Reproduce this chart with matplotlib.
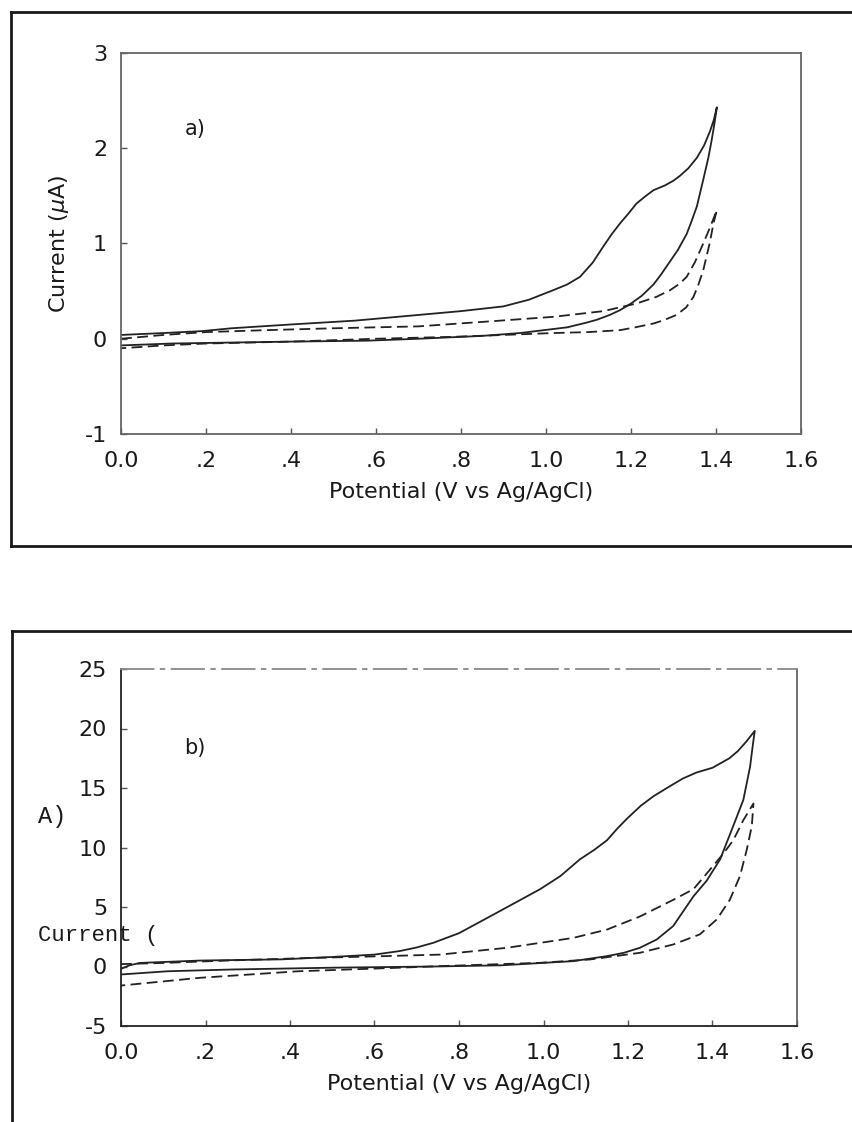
import matplotlib
matplotlib.use("Agg")
import matplotlib.pyplot as plt
from matplotlib.lines import Line2D

plt.rcParams["axes.unicode_minus"] = False

# ---- panel a) : current in uA ----
a_solid_up_v = [0.0, 0.1, 0.19, 0.26, 0.4, 0.55, 0.7, 0.8, 0.9, 0.96, 1.017, 1.05, 1.08, 1.11,
                1.135, 1.155, 1.174, 1.195, 1.213, 1.235, 1.253, 1.28, 1.3, 1.315, 1.335,
                1.355, 1.372, 1.386, 1.395, 1.402]
a_solid_up_i = [0.04, 0.06, 0.08, 0.11, 0.15, 0.19, 0.25, 0.29, 0.34, 0.41, 0.51, 0.57, 0.65, 0.8,
                0.97, 1.1, 1.21, 1.32, 1.42, 1.5, 1.56, 1.61, 1.66, 1.71, 1.79,
                1.9, 2.03, 2.18, 2.3, 2.43]
a_solid_dn_v = [1.396, 1.39, 1.382, 1.37, 1.355, 1.343, 1.331, 1.31, 1.29, 1.27, 1.253, 1.225,
                1.2, 1.174, 1.15, 1.12, 1.096, 1.05, 0.939, 0.85, 0.7, 0.58, 0.4, 0.26, 0.12, 0.0]
a_solid_dn_i = [2.25, 2.09, 1.9, 1.67, 1.39, 1.24, 1.1, 0.93, 0.8, 0.67, 0.57, 0.45,
                0.37, 0.3, 0.25, 0.2, 0.17, 0.12, 0.06, 0.03, 0.0, -0.02, -0.03, -0.04, -0.05, -0.07]

a_dash_up_v = [0.0, 0.1, 0.2, 0.34, 0.5, 0.7, 0.86, 1.017, 1.135, 1.213, 1.26, 1.292, 1.315,
               1.331, 1.35, 1.37, 1.386, 1.402]
a_dash_up_i = [0.0, 0.04, 0.07, 0.09, 0.11, 0.13, 0.18, 0.23, 0.29, 0.37, 0.44, 0.51, 0.58,
               0.65, 0.8, 1.0, 1.17, 1.35]
a_dash_dn_v = [1.398, 1.394, 1.385, 1.37, 1.358, 1.347, 1.33, 1.307, 1.28, 1.253, 1.21, 1.174,
               1.1, 1.017, 0.9, 0.78, 0.6, 0.4, 0.2, 0.1, 0.0]
a_dash_dn_i = [1.28, 1.21, 1.0, 0.72, 0.56, 0.44, 0.33, 0.25, 0.2, 0.16, 0.12, 0.09,
               0.07, 0.06, 0.04, 0.02, 0.0, -0.03, -0.05, -0.07, -0.1]

# ---- panel b) ----
b_solid_up_v = [0.0, 0.02, 0.045, 0.187, 0.38, 0.5, 0.6, 0.66, 0.7, 0.74, 0.8, 0.873, 0.93,
                0.992, 1.04, 1.086, 1.12, 1.15, 1.175, 1.197, 1.23, 1.26, 1.299, 1.33, 1.362,
                1.4, 1.42, 1.44, 1.46, 1.48, 1.5]
b_solid_up_i = [-0.2, 0.1, 0.3, 0.5, 0.6, 0.8, 1.0, 1.3, 1.6, 2.0, 2.8, 4.2, 5.3,
                6.5, 7.6, 9.0, 9.8, 10.6, 11.6, 12.4, 13.5, 14.3, 15.15, 15.8, 16.3,
                16.7, 17.1, 17.5, 18.1, 18.9, 19.8]
b_solid_dn_v = [1.495, 1.489, 1.473, 1.449, 1.418, 1.386, 1.355, 1.307, 1.268, 1.228, 1.19,
                1.15, 1.07, 0.9, 0.74, 0.5, 0.265, 0.11, 0.0]
b_solid_dn_i = [18.5, 16.8, 14.0, 11.8, 9.0, 7.2, 5.9, 3.4, 2.27, 1.57, 1.15,
                0.87, 0.45, 0.1, 0.0, -0.1, -0.25, -0.4, -0.67]

b_dash_up_v = [0.0, 0.1, 0.25, 0.43, 0.6, 0.755, 0.913, 1.07, 1.15, 1.228, 1.307, 1.355,
               1.386, 1.426, 1.449, 1.473, 1.497]
b_dash_up_i = [0.2, 0.3, 0.5, 0.7, 0.85, 1.0, 1.57, 2.4, 3.1, 4.2, 5.6, 6.5,
               7.8, 9.5, 10.6, 12.3, 13.7]
b_dash_dn_v = [1.493, 1.481, 1.465, 1.441, 1.41, 1.37, 1.307, 1.228, 1.11, 0.992, 0.755,
               0.66, 0.42, 0.187, 0.0]
b_dash_dn_i = [11.8, 9.8, 7.6, 5.6, 3.95, 2.7, 1.85, 1.15, 0.59, 0.31, 0.03,
               -0.1, -0.4, -0.95, -1.6]

x_ticks = [0.0, 0.2, 0.4, 0.6, 0.8, 1.0, 1.2, 1.4, 1.6]
x_ticklabels = ["0.0", ".2", ".4", ".6", ".8", "1.0", "1.2", "1.4", "1.6"]
a_yticks = [-1, 0, 1, 2, 3]
b_yticks = [-5, 0, 5, 10, 15, 20, 25]

W, H = 853, 1122
fig = plt.figure(figsize=(W / 100, H / 100), dpi=100)
fig.patch.set_facecolor("white")


def px(x0, y0, x1, y1):
    # pixel box (left, top, right, bottom) -> figure rect
    return [x0 / W, 1 - y1 / H, (x1 - x0) / W, (y1 - y0) / H]


def style_axes(ax, yticks, ylim):
    ax.set_xlim(0, 1.6)
    ax.set_ylim(*ylim)
    ax.set_xticks(x_ticks)
    ax.set_xticklabels(x_ticklabels)
    ax.set_yticks(yticks)
    ax.tick_params(direction="in", length=4, width=1, color="#555555",
                   labelsize=16, labelcolor="#1a1a1a")
    ax.tick_params(axis="x", pad=12)
    ax.tick_params(axis="y", pad=10)
    for s in ax.spines.values():
        s.set_color("#666666")
        s.set_linewidth(1.3)
    ax.set_xlabel("Potential (V vs Ag/AgCl)", fontsize=16, color="#1a1a1a", labelpad=8)


lw = 1.3
dash = (0, (6, 3))

# panel a
ax1 = fig.add_axes(px(121, 53, 801, 434))
ax1.plot(a_solid_up_v + a_solid_dn_v, a_solid_up_i + a_solid_dn_i, color="#222222", lw=lw)
ax1.plot(a_dash_up_v + a_dash_dn_v, a_dash_up_i + a_dash_dn_i, color="#222222", lw=lw,
         linestyle=dash)
style_axes(ax1, a_yticks, (-1, 3))
ax1.set_ylabel("Current ($\\mu$A)", fontsize=16, color="#1a1a1a", labelpad=10)
ax1.text(0.15, 2.2, "a)", fontsize=15, color="#1a1a1a", va="center")

# panel b
ax2 = fig.add_axes(px(121, 669, 797, 1026))
ax2.plot(b_solid_up_v + b_solid_dn_v, b_solid_up_i + b_solid_dn_i, color="#222222", lw=lw)
ax2.plot(b_dash_up_v + b_dash_dn_v, b_dash_up_i + b_dash_dn_i, color="#222222", lw=lw,
         linestyle=dash)
style_axes(ax2, b_yticks, (-5, 25))
ax2.spines["left"].set_color("#222222")
ax2.spines["bottom"].set_color("#222222")
ax2.spines["top"].set_linestyle((0, (18, 4, 2, 4)))
ax2.spines["top"].set_color("#888888")
ax2.text(0.15, 18.4, "b)", fontsize=15, color="#1a1a1a", va="center")
# the broken y label of the scan
fig.text(38 / W, 1 - 936 / H, "Current (", fontsize=16, family="Liberation Mono",
         color="#1a1a1a", va="center", ha="left")
fig.text(38 / W, 1 - 817 / H, "A)", fontsize=17, family="Liberation Mono",
         color="#1a1a1a", va="center", ha="left")

# outer frames of the scanned page
fc = "#1a1a1a"
fig.add_artist(Line2D([11 / W, 11 / W], [1 - 12 / H, 1 - 546 / H], color=fc, lw=2))
fig.add_artist(Line2D([11 / W, 1.0], [1 - 12 / H, 1 - 12 / H], color=fc, lw=2))
fig.add_artist(Line2D([11 / W, 1.0], [1 - 546 / H, 1 - 546 / H], color=fc, lw=2))
fig.add_artist(Line2D([12 / W, 12 / W], [1 - 631 / H, 0.0], color=fc, lw=2))
fig.add_artist(Line2D([12 / W, 1.0], [1 - 631 / H, 1 - 631 / H], color=fc, lw=2))

fig.savefig("out.png", dpi=100)
